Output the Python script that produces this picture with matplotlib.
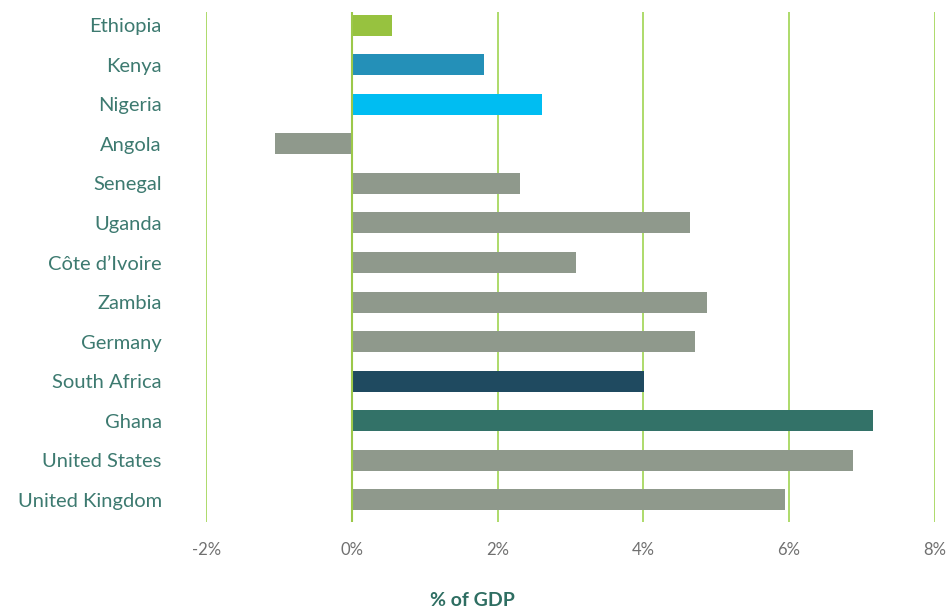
import matplotlib.pyplot as plt
from matplotlib.ticker import FuncFormatter

countries = ["Ethiopia", "Kenya", "Nigeria", "Angola", "Senegal", "Uganda",
             "Côte d’Ivoire", "Zambia", "Germany", "South Africa", "Ghana",
             "United States", "United Kingdom"]
values = [0.55, 1.81, 2.61, -1.05, 2.31, 4.64, 3.08, 4.87, 4.71, 4.01,
          7.15, 6.88, 5.95]
colors = ["#97c23f", "#2490b8", "#00bdf2", "#8f998c", "#8f998c", "#8f998c",
          "#8f998c", "#8f998c", "#8f998c", "#1f4a60", "#337268",
          "#8f998c", "#8f998c"]
xticks = [-2, 0, 2, 4, 6, 8]

plt.rcParams['font.family'] = ['Lato', 'DejaVu Sans']

fig = plt.figure(figsize=(9.52, 6.15), dpi=100)
ax = fig.add_axes([0.2165, 0.151, 0.7655, 0.8295])

ypos = list(range(len(countries)))
for x in xticks:
    ax.axvline(x, color="#addb6a", lw=1.4, zorder=0)
ax.barh(ypos, values, height=0.53, color=colors, zorder=2)
ax.axvline(0, color="#9cc84a", lw=1.5, zorder=3)

ax.set_xlim(-2, 8)
ax.set_ylim(len(countries) - 1 + 0.56, -0.33)
ax.set_yticks(ypos)
ax.set_yticklabels(countries, fontsize=14.5, color="#3d7a70")
ax.set_xticks(xticks)
ax.xaxis.set_major_formatter(FuncFormatter(lambda v, p: f"{v:.0f}%"))
ax.tick_params(axis="x", length=0, pad=14, labelsize=12, labelcolor="#707070")
ax.tick_params(axis="y", length=0, pad=32)
for s in ax.spines.values():
    s.set_visible(False)

fig.text(472 / 952, 1 - 601 / 615, "% of GDP", ha="center", va="center",
         fontsize=14, fontweight="bold", color="#2e6e62")

fig.savefig("out.png", dpi=100)
